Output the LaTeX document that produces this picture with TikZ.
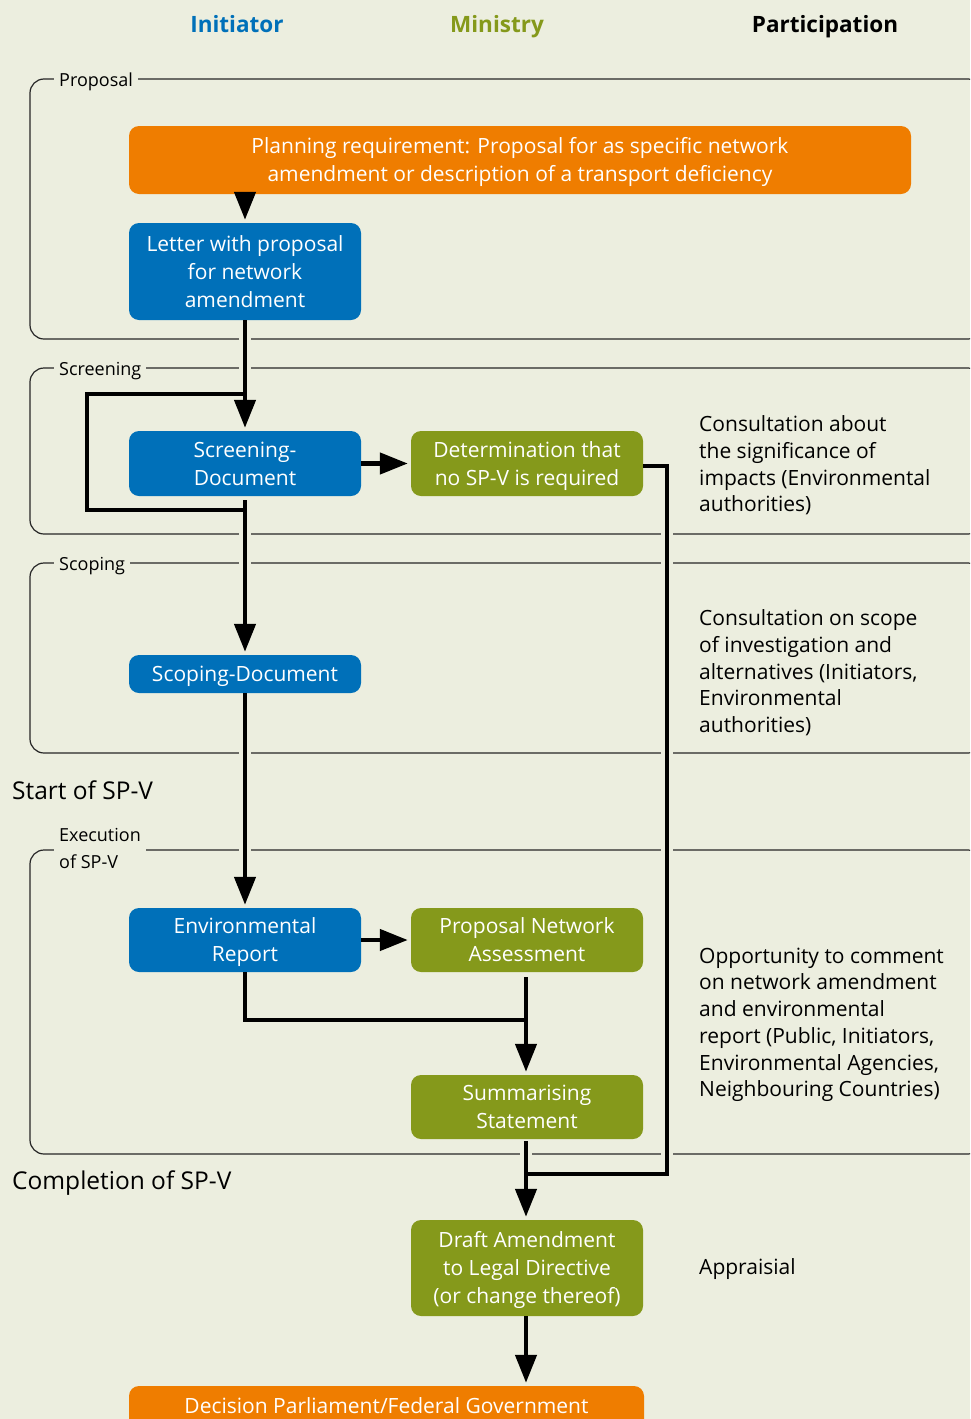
\documentclass[tikz,border=0pt]{standalone}
\usepackage{fontspec}
\setmainfont{Open Sans}
\usetikzlibrary{arrows.meta,calc}
\definecolor{bg}{HTML}{ECEEDF}
\definecolor{iblue}{HTML}{0070B9}
\definecolor{mgreen}{HTML}{85991B}
\definecolor{orng}{HTML}{EF7D00}
\definecolor{frm}{HTML}{262626}
\newcommand\lnstrut{\rule[-6.4pt]{0pt}{28pt}}
\begin{document}
\begin{tikzpicture}[x=1pt,y=-1pt,
 box/.style={rounded corners=10pt, inner sep=0pt, align=center, text=white, font=\fontsize{21pt}{28pt}\selectfont, minimum width=232pt},
 bluebox/.style={box, fill=iblue},
 greenbox/.style={box, fill=mgreen},
 orangebox/.style={box, fill=orng},
 frame/.style={draw=frm, line width=1.2pt, rounded corners=14pt},
 grouplabel/.style={fill=bg, inner xsep=5pt, inner ysep=1pt, anchor=west, align=left, font=\fontsize{18pt}{27pt}\selectfont},
 conn/.style={line width=4.5pt},
 arr/.style={conn, -{Triangle[length=28pt,width=21pt]}, shorten >=3pt},
 parttext/.style={anchor=north west, align=left, inner sep=0pt, font=\fontsize{21pt}{26.7pt}\selectfont},
 header/.style={anchor=base, font=\fontsize{22.5pt}{26pt}\selectfont\bfseries},
 phase/.style={anchor=west, inner sep=0pt, font=\fontsize{24.5pt}{28pt}\selectfont}
]
\clip (0,0) rectangle (970,1419);
\fill[bg] (0,0) rectangle (970,1419);

% headers
\node[header, text=iblue] (h1) at (237,32) {Initiator};
\node[header, text=mgreen] (h2) at (497,32) {Ministry};
\node[header, text=black] (h3) at (825,32) {Participation};

% frames
\draw[frame] (30,79) rectangle (982,339);
\draw[frame] (30,368) rectangle (982,534);
\draw[frame] (30,563) rectangle (982,753);
\draw[frame] (30,850) rectangle (982,1154);
\node[grouplabel] (g1) at (54,82) {Proposal};
\node[grouplabel] (g2) at (54,371) {Screening};
\node[grouplabel] (g3) at (54,566) {Scoping};
\node[grouplabel] (g4) at (54,848) {Execution\\of SP-V};

% gaps where connectors cross frame lines
\foreach \x/\y in {245/339,245/368,245/534,245/563,245/753,245/850,667/534,667/563,667/753,667/850,667/1154,526/1154}
  \fill[bg] (\x-6,\y-2) rectangle (\x+6,\y+2);

% nodes
\node[orangebox, minimum width=782pt, minimum height=68pt] (plan) at (520,160) {\lnstrut Planning requirement: Proposal for as specific network\\\lnstrut amendment or description of a transport deficiency};
\node[bluebox, minimum height=97pt] (letter) at (245,271.5) {\lnstrut Letter with proposal\\\lnstrut for network\\\lnstrut amendment};
\node[bluebox, minimum height=65pt] (scr) at (245,463.5) {\lnstrut Screening-\\\lnstrut Document};
\node[greenbox, minimum height=65pt] (det) at (527,463.5) {\lnstrut Determination that\\\lnstrut no SP-V is required};
\node[bluebox, minimum height=38pt] (scop) at (245,674) {\lnstrut Scoping-Document};
\node[bluebox, minimum height=64pt] (env) at (245,940) {\lnstrut Environmental\\\lnstrut Report};
\node[greenbox, minimum height=64pt] (pna) at (527,940) {\lnstrut Proposal Network\\\lnstrut Assessment};
\node[greenbox, minimum height=64pt] (summ) at (527,1107) {\lnstrut Summarising\\\lnstrut Statement};
\node[greenbox, minimum height=96pt] (draft) at (527,1268) {\lnstrut Draft Amendment\\\lnstrut to Legal Directive\\\lnstrut (or change thereof)};
\node[orangebox, minimum width=515pt, minimum height=50pt] (dec) at (386.5,1411) {\raisebox{17pt}{\lnstrut Decision Parliament/Federal Government}};

% joining coordinates
\coordinate (j1) at (245,394);
\coordinate (j2) at (245,510);
\coordinate (j3) at (526,1174);
\coordinate (j4) at (526,1020);
\coordinate (d1) at ($(det.east)+(0,2.5)$);

% joining lines first
\draw[conn] (j1) -- (87,394) -- (87,510) -- (j2);
\draw[conn] (d1) -- (667,466) -- (667,1174) -- (j3);
\draw[conn] (env.south) -- (245,1020) -- (j4);

% main connectors
\draw[arr] (plan.south -| letter.north) -- (letter.north);
\draw[arr] (letter.south) -- (scr.north);
\draw[arr] (scr.east) -- (det.west);
\draw[arr, shorten <=4pt] (scr.south) -- (scop.north);
\draw[arr] (scop.south) -- (env.north);
\draw[arr] (env.east) -- (pna.west);
\draw[arr, shorten <=5pt] (pna.south -| j4) -- (summ.north -| j4);
\draw[arr, shorten <=2pt] (summ.south -| j3) -- (draft.north -| j3);
\draw[arr] (draft.south -| j3) -- (dec.north -| j3);

% phase labels
\node[phase] (p1) at (12,790) {Start of SP-V};
\node[phase] (p2) at (12,1183) {Completion of SP-V};

% participation texts
\node[parttext] (t1) at (699,415.6) {Consultation about\\the significance of\\impacts (Environmental\\authorities)};
\node[parttext] (t2) at (699,609.6) {Consultation on scope\\of investigation and\\alternatives (Initiators,\\Environmental\\authorities)};
\node[parttext] (t3) at (699,947.6) {Opportunity to comment\\on network amendment\\and environmental\\report (Public, Initiators,\\Environmental Agencies,\\Neighbouring Countries)};
\node[parttext] (t4) at (699,1258.6) {Appraisial};
\end{tikzpicture}
\end{document}
